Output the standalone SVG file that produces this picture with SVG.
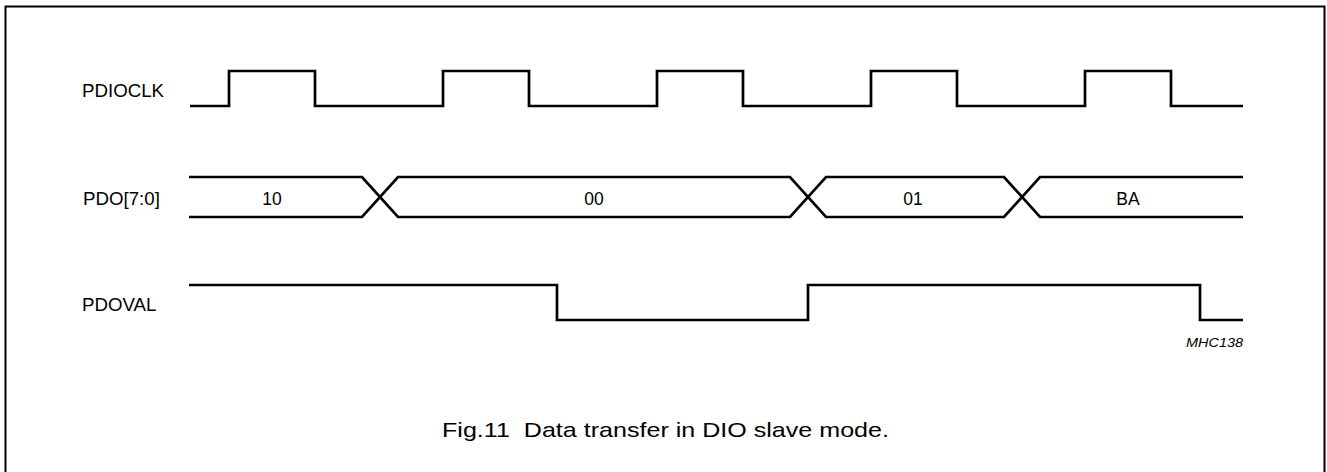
<svg xmlns="http://www.w3.org/2000/svg" width="1327" height="472" viewBox="0 0 1327 472">
<style>
.sig{fill:none;stroke:#000;stroke-width:2.7;stroke-linejoin:miter}
.lbl{font-family:"Liberation Sans",Arial,sans-serif;font-size:18.7px;fill:#000}
.val{font-family:"Liberation Sans",Arial,sans-serif;font-size:17.5px;fill:#000;text-anchor:middle}
</style>
<rect x="0" y="0" width="1327" height="472" fill="#fff"/>
<rect id="frame" x="5.5" y="6.5" width="1319" height="480" fill="none" stroke="#000" stroke-width="2"/>
<g id="PDIOCLK">
<text class="lbl" x="82" y="97">PDIOCLK</text>
<path class="sig" d="M190,106 H229 V71 H315 V106 H443 V71 H529 V106 H657 V71 H743 V106 H871 V71 H957 V106 H1085 V71 H1171 V106 H1243"/>
</g>
<g id="PDO">
<text class="lbl" x="83" y="205">PDO[7:0]</text>
<path class="sig" d="M189,177 H362 L398,217 H790 L826,177 H1004 L1040,217 H1243"/>
<path class="sig" d="M189,217 H362 L398,177 H790 L826,217 H1004 L1040,177 H1243"/>
<text class="val" x="272" y="205">10</text>
<text class="val" x="594" y="205">00</text>
<text class="val" x="913" y="205">01</text>
<text class="val" x="1128" y="205">BA</text>
</g>
<g id="PDOVAL">
<text class="lbl" x="82" y="311">PDOVAL</text>
<path class="sig" d="M189,285 H557 V320 H808 V285 H1200 V320 H1243"/>
</g>
<text x="1186" y="347" font-family="Liberation Sans,Arial,sans-serif" font-size="13" font-style="italic" textLength="57" lengthAdjust="spacingAndGlyphs">MHC138</text>
<text x="442" y="437" font-family="Liberation Sans,Arial,sans-serif" font-size="21" textLength="447" lengthAdjust="spacingAndGlyphs" xml:space="preserve">Fig.11  Data transfer in DIO slave mode.</text>
</svg>
